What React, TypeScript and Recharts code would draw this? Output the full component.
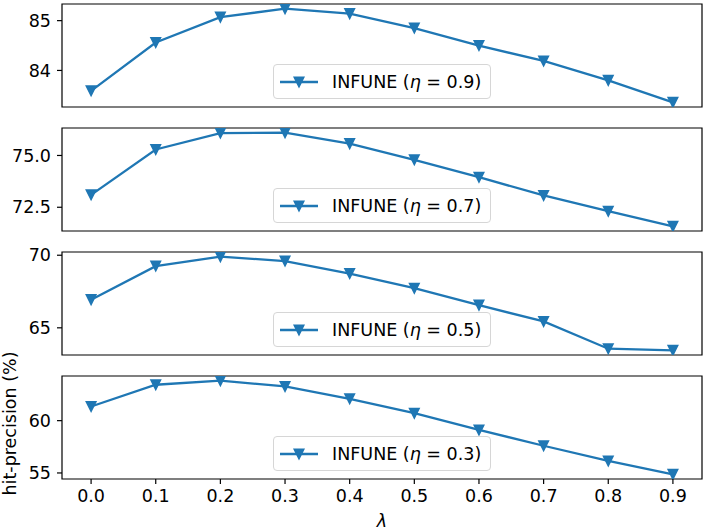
import { Legend, Line, LineChart, ReferenceArea, XAxis, YAxis } from "recharts";

const LAMBDA = [0, 0.1, 0.2, 0.3, 0.4, 0.5, 0.6, 0.7, 0.8, 0.9];

const ETA_09 = [83.59, 84.56, 85.07, 85.24, 85.14, 84.85, 84.5, 84.19, 83.8, 83.36];
const ETA_07 = [73.1, 75.29, 76.08, 76.1, 75.57, 74.79, 73.95, 73.07, 72.31, 71.58];
const ETA_05 = [66.94, 69.25, 69.9, 69.6, 68.74, 67.73, 66.56, 65.44, 63.56, 63.45];
const ETA_03 = [61.35, 63.43, 63.82, 63.27, 62.09, 60.71, 59.11, 57.6, 56.15, 54.87];

const PANELS = [
  { eta: "0.9", values: ETA_09, ticks: [84, 85], digits: 0 },
  { eta: "0.7", values: ETA_07, ticks: [72.5, 75.0], digits: 1 },
  { eta: "0.5", values: ETA_05, ticks: [65, 70], digits: 0 },
  { eta: "0.3", values: ETA_03, ticks: [55, 60], digits: 0 },
];

const BLUE = "#1f77b4";
const FONT = "'DejaVu Sans', sans-serif";
const FONT_SIZE = 17.5;
const X_DOMAIN: [number, number] = [-0.045, 0.945];

// plot frame geometry (page pixels)
const PLOT_LEFT = 62;
const PLOT_RIGHT = 702;
const FIRST_TOP = 4;
const PLOT_H = 103;
const STEP = 124;

function padDomain(values: number[]): [number, number] {
  const lo = Math.min(...values);
  const hi = Math.max(...values);
  const m = (hi - lo) * 0.05;
  return [lo - m, hi + m];
}

function TriDown(props: any) {
  const { cx, cy, index } = props;
  if (cx == null || cy == null) return null;
  const r = 4.8;
  return (
    <path
      key={`tri-${index}`}
      d={`M${cx - r},${cy - r}L${cx + r},${cy - r}L${cx},${cy + r}Z`}
      fill={BLUE}
      stroke={BLUE}
      strokeWidth={1.5}
    />
  );
}

function LegendBox({ eta }: { eta: string }) {
  return (
    <div
      style={{
        boxSizing: "border-box",
        width: 218,
        height: 35,
        display: "flex",
        alignItems: "center",
        paddingLeft: 6,
        border: "1px solid #d6d6d6",
        borderRadius: 4,
        background: "rgba(255,255,255,0.8)",
        fontFamily: FONT,
        fontSize: FONT_SIZE,
        color: "#000",
        whiteSpace: "nowrap",
      }}
    >
      <svg width={38} height={14} style={{ display: "block" }}>
        <line x1={0} y1={7} x2={38} y2={7} stroke={BLUE} strokeWidth={2.3} />
        <path d="M14.2,2.2L23.8,2.2L19,11.8Z" fill={BLUE} stroke={BLUE} strokeWidth={1.5} />
      </svg>
      <span style={{ marginLeft: 14 }}>
        INFUNE (<span style={{ fontStyle: "italic" }}>η</span> = {eta})
      </span>
    </div>
  );
}

function YLabel(props: any) {
  const vb = props.viewBox || { x: 0, y: 0, width: 0, height: 0 };
  const x = vb.x + 16;
  const y = vb.y + vb.height / 2 - 4;
  return (
    <text
      x={x}
      y={y}
      transform={`rotate(-90, ${x}, ${y})`}
      textAnchor="middle"
      fontFamily={FONT}
      fontSize={FONT_SIZE}
      fill="#000"
    >
      hit-precision (%)
    </text>
  );
}

function Panel({ index }: { index: number }) {
  const p = PANELS[index];
  const last = index === PANELS.length - 1;
  const padTop = last ? 34 : 8;
  const top = FIRST_TOP + index * STEP;
  const xAxisH = last ? 531 - (top + PLOT_H) : 10;
  const height = padTop + PLOT_H + xAxisH;
  const yDomain = padDomain(p.values);
  const data = LAMBDA.map((l, i) => ({ l, v: p.values[i] }));
  const tickStyle = { fontFamily: FONT, fontSize: FONT_SIZE, fill: "#000" };
  const legendLeft = (PLOT_LEFT + PLOT_RIGHT) / 2 - 109;

  return (
    <div style={{ position: "absolute", left: 0, top: top - padTop }}>
      <LineChart
        width={706}
        height={height}
        data={data}
        margin={{ top: padTop, right: 706 - PLOT_RIGHT, bottom: 0, left: 0 }}
      >
        <XAxis
          type="number"
          dataKey="l"
          domain={X_DOMAIN}
          allowDataOverflow
          ticks={LAMBDA}
          interval={0}
          tickFormatter={(v: number) => v.toFixed(1)}
          tick={last ? tickStyle : false}
          tickSize={5}
          tickMargin={6}
          tickLine={{ stroke: "#000", strokeWidth: 1.2 }}
          axisLine={false}
          height={xAxisH}
          label={
            last
              ? {
                  value: "λ",
                  position: "insideBottom",
                  offset: 4,
                  style: { fontFamily: FONT, fontSize: FONT_SIZE, fontStyle: "italic", fill: "#000" },
                }
              : undefined
          }
        />
        <YAxis
          type="number"
          domain={yDomain}
          allowDataOverflow
          ticks={p.ticks}
          interval={0}
          tickFormatter={(v: number) => v.toFixed(p.digits)}
          tick={tickStyle}
          tickSize={5}
          tickMargin={6}
          tickLine={{ stroke: "#000", strokeWidth: 1.2 }}
          axisLine={false}
          width={PLOT_LEFT}
          label={last ? { content: YLabel } : undefined}
        />
        <Legend
          layout="horizontal"
          verticalAlign="middle"
          content={() => <LegendBox eta={p.eta} />}
          wrapperStyle={{ left: legendLeft, top: padTop + PLOT_H - 8 - 35, width: 218, height: 35 }}
        />
        <Line
          type="linear"
          dataKey="v"
          stroke={BLUE}
          strokeWidth={2.3}
          dot={TriDown}
          activeDot={false}
          isAnimationActive={false}
        />
        <ReferenceArea
          x1={X_DOMAIN[0]}
          x2={X_DOMAIN[1]}
          y1={yDomain[0]}
          y2={yDomain[1]}
          fill="none"
          fillOpacity={0}
          stroke="#000"
          strokeWidth={1.2}
          ifOverflow="visible"
        />
      </LineChart>
    </div>
  );
}

export default function App() {
  return (
    <div
      style={{
        position: "absolute",
        left: 0,
        top: 0,
        width: 706,
        height: 531,
        background: "#fff",
        fontFamily: FONT,
      }}
    >
      {PANELS.map((p, i) => (
        <Panel key={p.eta} index={i} />
      ))}
    </div>
  );
}
